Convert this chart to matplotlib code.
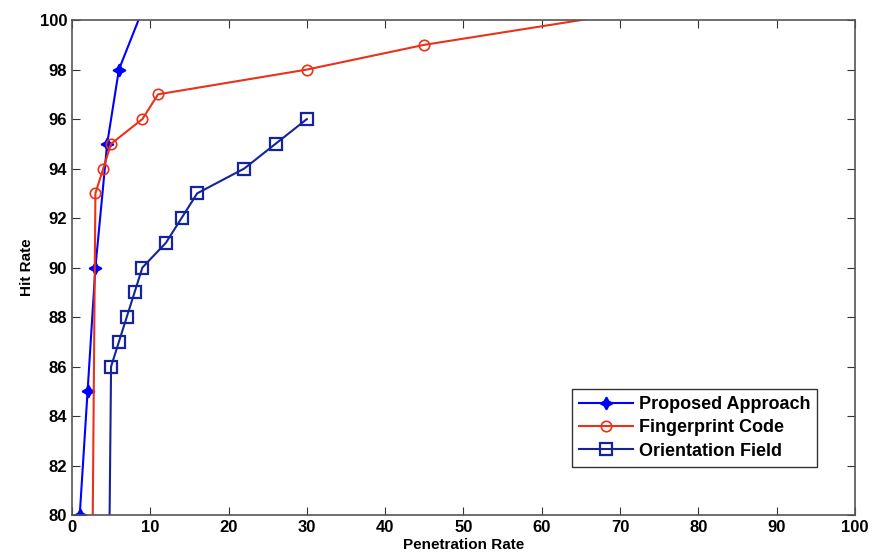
import numpy as np
import matplotlib.pyplot as plt

plt.rcParams["font.family"] = ["Liberation Sans", "DejaVu Sans"]
plt.rcParams["font.weight"] = "bold"

# Proposed Approach
prop_x = [1, 2, 3, 4.5, 6, 10]
prop_y = [80, 85, 90, 95, 98, 101.2]

# Fingerprint Code
fc_x = [2.4, 3, 4, 5, 9, 11, 30, 45, 85]
fc_y = [70, 93, 94, 95, 96, 97, 98, 99, 101]

# Orientation Field
of_x = [4.5, 5, 6, 7, 8, 9, 12, 14, 16, 22, 26, 30]
of_y = [70, 86, 87, 88, 89, 90, 91, 92, 93, 94, 95, 96]

x_ticks = np.arange(0, 101, 10)
y_ticks = np.arange(80, 101, 2)

fig = plt.figure(figsize=(8.77, 5.58), dpi=100)
ax = fig.add_axes([0.082, 0.077, 0.893, 0.887])

ax.plot(prop_x, prop_y, color="#0000ff", lw=1.5, marker=(4, 1, 0),
        ms=9, mew=1.2, label="Proposed Approach")
ax.plot(fc_x, fc_y, color="#e8321a", lw=1.5, marker="o", ms=7.5,
        mfc="none", mew=1.2, label="Fingerprint Code")
ax.plot(of_x, of_y, color="#14249a", lw=1.5, marker="s", ms=8,
        mfc="none", mew=1.6, label="Orientation Field")

ax.set_xlim(0, 100)
ax.set_ylim(80, 100)
ax.set_xticks(x_ticks)
ax.set_yticks(y_ticks)
ax.tick_params(direction="in", top=True, right=True, labelsize=12,
               length=6, color="#333333")
for lbl in ax.get_xticklabels() + ax.get_yticklabels():
    lbl.set_fontweight("bold")
for sp in ax.spines.values():
    sp.set_color("#555555")
    sp.set_linewidth(1.2)

ax.set_xlabel("Penetration Rate", fontsize=11, fontweight="bold", labelpad=2)
ax.set_ylabel("Hit Rate", fontsize=11, fontweight="bold", labelpad=4)

leg = ax.legend(loc="lower right", bbox_to_anchor=(0.952, 0.097), fontsize=13,
                fancybox=False, edgecolor="#333333", framealpha=1,
                handlelength=3.0, borderpad=0.4, labelspacing=0.35,
                handletextpad=0.3, borderaxespad=0.0)
leg.get_frame().set_linewidth(1.0)
for t in leg.get_texts():
    t.set_fontweight("bold")

fig.savefig("out.png", dpi=100)
